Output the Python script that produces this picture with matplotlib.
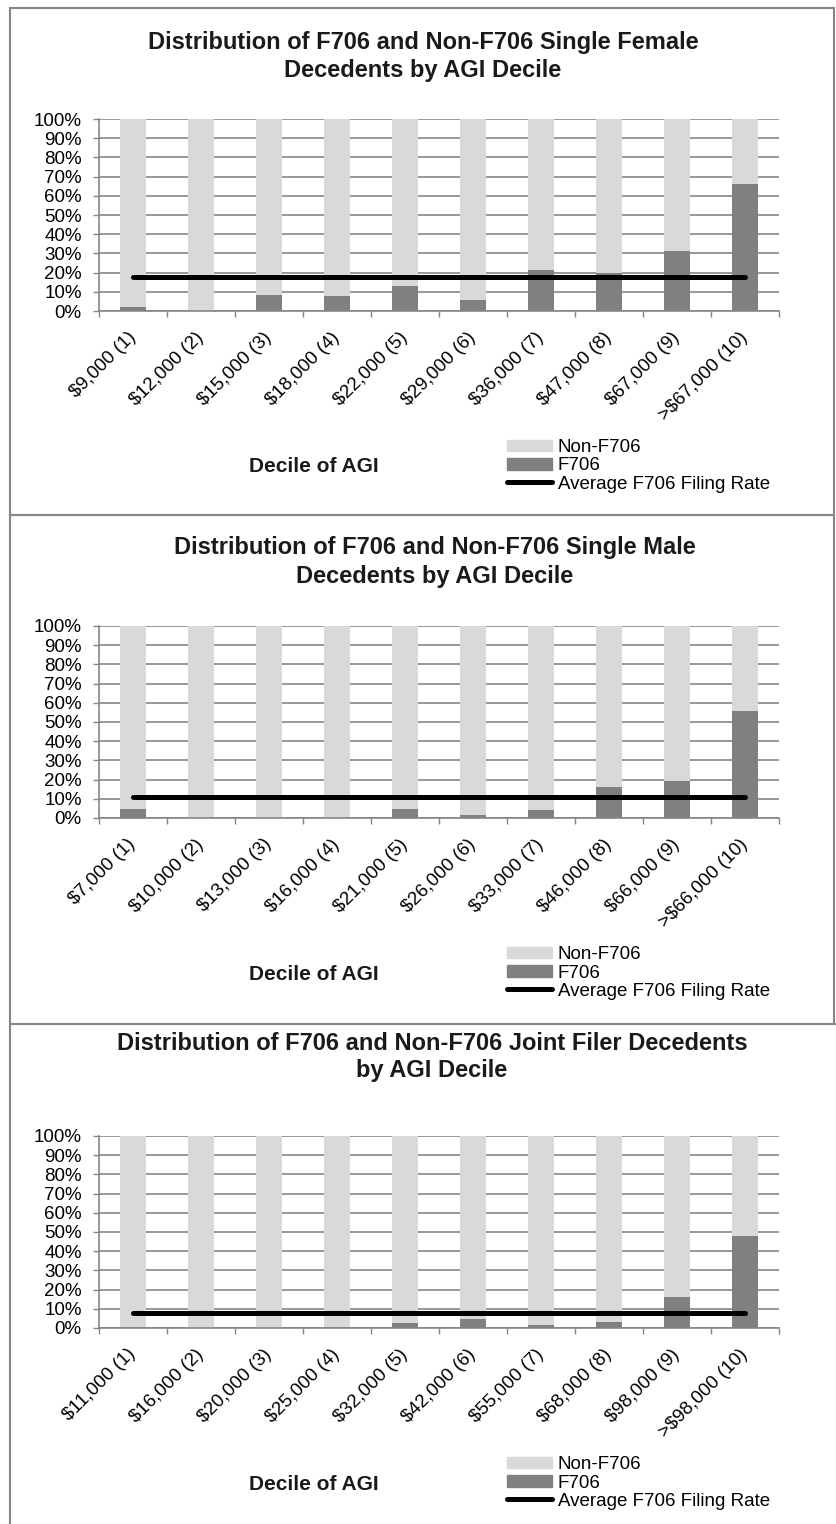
import matplotlib
matplotlib.use('Agg')
import numpy as np
import matplotlib.pyplot as plt
from matplotlib.patches import Patch, Rectangle
from matplotlib.lines import Line2D

plt.rcParams['font.family'] = ['Liberation Sans', 'DejaVu Sans']

# values (percent of decedents filing F706)
female_labels = ['$9,000 (1)', '$12,000 (2)', '$15,000 (3)', '$18,000 (4)', '$22,000 (5)',
                 '$29,000 (6)', '$36,000 (7)', '$47,000 (8)', '$67,000 (9)', '>$67,000 (10)']
female_f706 = [1.9, 0.0, 8.1, 7.6, 13.0, 5.7, 21.5, 19.6, 31.3, 66.3]
female_avg = 17.8

male_labels = ['$7,000 (1)', '$10,000 (2)', '$13,000 (3)', '$16,000 (4)', '$21,000 (5)',
               '$26,000 (6)', '$33,000 (7)', '$46,000 (8)', '$66,000 (9)', '>$66,000 (10)']
male_f706 = [4.8, 0.0, 0.0, 0.0, 4.8, 1.4, 4.0, 16.1, 19.5, 55.7]
male_avg = 10.7

joint_labels = ['$11,000 (1)', '$16,000 (2)', '$20,000 (3)', '$25,000 (4)', '$32,000 (5)',
                '$42,000 (6)', '$55,000 (7)', '$68,000 (8)', '$98,000 (9)', '>$98,000 (10)']
joint_f706 = [0.7, 0.0, 0.0, 0.5, 2.6, 4.5, 1.6, 3.3, 16.3, 47.8]
joint_avg = 7.6

titles = [('Distribution of F706 and Non-F706 Single Female', 'Decedents by AGI Decile'),
          ('Distribution of F706 and Non-F706 Single Male', 'Decedents by AGI Decile'),
          ('Distribution of F706 and Non-F706 Joint Filer Decedents', 'by AGI Decile')]

W, H = 836, 1524
GRAY = '#868686'
LIGHT = '#d9d9d9'
DARK = '#808080'

fig = plt.figure(figsize=(W / 100, H / 100), dpi=100)


def fx(x):
    return x / W


def fy(y):
    return 1 - y / H


panels = [(female_labels, female_f706, female_avg, 0, 423, 42),
          (male_labels, male_f706, male_avg, 507, 435, 548),
          (joint_labels, joint_f706, joint_avg, 1017, 432, 1043)]

# panel frames
for top, bottom, right in [(8, 515, 834), (515, 1024, 834), (1024, 1540, 850)]:
    fig.add_artist(Rectangle((fx(10), fy(bottom)), fx(right) - fx(10), fy(top) - fy(bottom),
                             transform=fig.transFigure, fill=False, ec=GRAY, lw=1.5))

for i, (labels, f706, avg, off, tx, ty) in enumerate(panels):
    f706 = np.array(f706)
    non = 100 - f706
    x = np.arange(len(labels))

    ax = fig.add_axes([fx(99), fy(311 + off), fx(779) - fx(99), fy(119) - fy(311)])
    ax.bar(x, f706, width=0.39, color=DARK, zorder=2)
    ax.bar(x, non, width=0.39, bottom=f706, color=LIGHT, zorder=2)
    ax.plot(x, [avg] * len(x), color='black', lw=3.6, solid_capstyle='round', zorder=3)

    ax.set_xlim(-0.5, len(x) - 0.5)
    ax.set_ylim(0, 100)
    ax.set_yticks(np.arange(0, 101, 10))
    ax.set_yticklabels([f'{v}%' for v in range(0, 101, 10)], fontsize=13.5)
    ax.yaxis.grid(True, color=GRAY, lw=1.2, zorder=0)
    ax.set_axisbelow(True)
    ax.tick_params(axis='y', length=4, width=1, color=GRAY, pad=8.5)

    ax.set_xticks(x)
    ax.set_xticklabels(labels, fontsize=13.5, rotation=45, ha='right', va='center',
                       rotation_mode='anchor')
    ax.set_xticks(np.arange(-0.5, len(x)), minor=True)
    ax.tick_params(axis='x', which='major', length=0, pad=17)
    ax.tick_params(axis='x', which='minor', length=4, width=1, color=GRAY)

    for s in ['top', 'right']:
        ax.spines[s].set_visible(False)
    for s in ['left', 'bottom']:
        ax.spines[s].set_color(GRAY)
        ax.spines[s].set_linewidth(1.2)

    t1, t2 = titles[i]
    fig.text(fx(tx), fy(ty), t1, ha='center', va='center', fontsize=17, fontweight='bold',
             color='#1a1a1a')
    fig.text(fx(tx), fy(ty + 28), t2, ha='center', va='center', fontsize=17, fontweight='bold',
             color='#1a1a1a')

    fig.text(fx(314), fy(467 + off), 'Decile of AGI', ha='center', va='center', fontsize=15,
             fontweight='bold', color='#1a1a1a')

    handles = [Patch(color=LIGHT, label='Non-F706'),
               Patch(color=DARK, label='F706'),
               Line2D([], [], color='black', lw=3.6, solid_capstyle='round',
                      label='Average F706 Filing Rate')]
    fig.legend(handles=handles, loc='center left', bbox_to_anchor=(fx(507), fy(466 + off)),
               frameon=False, fontsize=13.5, borderpad=0, borderaxespad=0,
               handlelength=2.4, handleheight=0.55, handletextpad=0.3, labelspacing=0.06)

fig.savefig('out.png', dpi=100)
